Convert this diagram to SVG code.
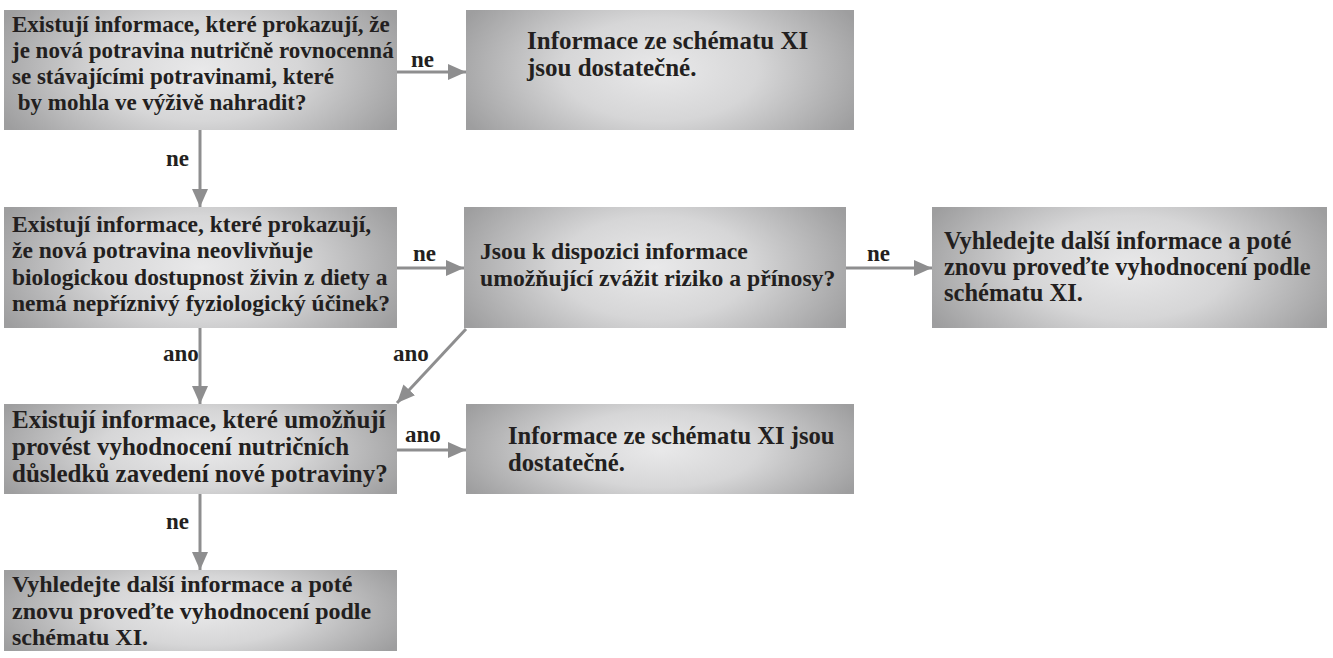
<svg xmlns="http://www.w3.org/2000/svg" width="1333" height="658" viewBox="0 0 1333 658">
  <defs>
    <!-- soft grey fill: light in the middle, darker towards the left and right edges -->
    <radialGradient id="boxFill" cx="0.5" cy="0.5" r="1" gradientTransform="translate(0.5 0.5) scale(0.56 0.95) translate(-0.5 -0.5)">
      <stop offset="0" stop-color="#e9e9ea"/>
      <stop offset="0.45" stop-color="#d6d6d7"/>
      <stop offset="0.9" stop-color="#a8a8a9"/>
      <stop offset="1" stop-color="#9e9e9f"/>
    </radialGradient>
    <marker id="arrowHead" viewBox="0 0 18 16" refX="18" refY="8" markerWidth="18" markerHeight="16" markerUnits="userSpaceOnUse" orient="auto">
      <path d="M0,0 L18,8 L0,16 Z" fill="#8e8e8f"/>
    </marker>
    <style>
      .box { fill: url(#boxFill); }
      .txt, .lbl { font-family: "Liberation Serif", "Times New Roman", serif; font-weight: bold; font-size: 23px; fill: #231f20; }
      .conn { stroke: #8e8e8f; stroke-width: 3; fill: none; marker-end: url(#arrowHead); }
    </style>
  </defs>

  <!-- connectors -->
  <g id="connectors">
    <line class="conn" x1="397" y1="72" x2="466" y2="72"/>
    <line class="conn" x1="200" y1="130" x2="200" y2="207"/>
    <line class="conn" x1="397" y1="268" x2="464" y2="268"/>
    <line class="conn" x1="846" y1="268" x2="932" y2="268"/>
    <line class="conn" x1="200" y1="328" x2="200" y2="404"/>
    <line class="conn" x1="466" y1="329" x2="397" y2="403"/>
    <line class="conn" x1="397" y1="450" x2="466" y2="450"/>
    <line class="conn" x1="200" y1="494" x2="200" y2="570"/>
  </g>

  <!-- connector labels -->
  <g id="labels">
    <text class="lbl" x="411" y="67">ne</text>
    <text class="lbl" x="166" y="166">ne</text>
    <text class="lbl" x="413" y="261">ne</text>
    <text class="lbl" x="867" y="261">ne</text>
    <text class="lbl" x="163" y="361">ano</text>
    <text class="lbl" x="393" y="361">ano</text>
    <text class="lbl" x="405" y="442">ano</text>
    <text class="lbl" x="166" y="529">ne</text>
  </g>

  <g id="q-equivalent">
    <rect class="box" x="4" y="10" width="393" height="120"/>
    <text class="txt" x="12" y="32">Existují informace, které prokazují, že</text>
    <text class="txt" x="12" y="58">je nová potravina nutričně rovnocenná</text>
    <text class="txt" x="12" y="84">se stávajícími potravinami, které</text>
    <text class="txt" x="12" y="110" xml:space="preserve"> by mohla ve výživě nahradit?</text>
  </g>

  <g id="r-sufficient-1">
    <rect class="box" x="466" y="10" width="388" height="120"/>
    <text class="txt" x="527" y="49" style="font-size:25px">Informace ze schématu XI</text>
    <text class="txt" x="527" y="76" style="font-size:25px">jsou dostatečné.</text>
  </g>

  <g id="q-bioavailability">
    <rect class="box" x="4" y="207" width="393" height="121"/>
    <text class="txt" x="12" y="232" style="font-size:23.5px">Existují informace, které prokazují,</text>
    <text class="txt" x="12" y="258" style="font-size:23.5px">že nová potravina neovlivňuje</text>
    <text class="txt" x="12" y="285" style="font-size:23.5px">biologickou dostupnost živin z diety a</text>
    <text class="txt" x="12" y="311" style="font-size:23.5px">nemá nepříznivý fyziologický účinek?</text>
  </g>

  <g id="q-risk-benefit">
    <rect class="box" x="464" y="207" width="382" height="121"/>
    <text class="txt" x="480" y="259" style="font-size:23.7px">Jsou k dispozici informace</text>
    <text class="txt" x="480" y="286" style="font-size:23.7px">umožňující zvážit riziko a přínosy?</text>
  </g>

  <g id="r-search-1">
    <rect class="box" x="932" y="207" width="395" height="121"/>
    <text class="txt" x="944" y="249" style="font-size:24.5px">Vyhledejte další informace a poté</text>
    <text class="txt" x="944" y="275" style="font-size:24.5px">znovu proveďte vyhodnocení podle</text>
    <text class="txt" x="944" y="301" style="font-size:24.5px">schématu XI.</text>
  </g>

  <g id="q-nutrition">
    <rect class="box" x="4" y="404" width="393" height="90"/>
    <text class="txt" x="12" y="428" style="font-size:25px">Existují informace, které umožňují</text>
    <text class="txt" x="12" y="455" style="font-size:25px">provést vyhodnocení nutričních</text>
    <text class="txt" x="12" y="482" style="font-size:25px">důsledků zavedení nové potraviny?</text>
  </g>

  <g id="r-sufficient-2">
    <rect class="box" x="466" y="404" width="388" height="90"/>
    <text class="txt" x="508" y="444" style="font-size:24.6px">Informace ze schématu XI jsou</text>
    <text class="txt" x="508" y="471" style="font-size:24.6px">dostatečné.</text>
  </g>

  <g id="r-search-2">
    <rect class="box" x="4" y="570" width="393" height="81"/>
    <text class="txt" x="12" y="592" style="font-size:24px">Vyhledejte další informace a poté</text>
    <text class="txt" x="12" y="619" style="font-size:24px">znovu proveďte vyhodnocení podle</text>
    <text class="txt" x="12" y="645" style="font-size:24px">schématu XI.</text>
  </g>
</svg>
